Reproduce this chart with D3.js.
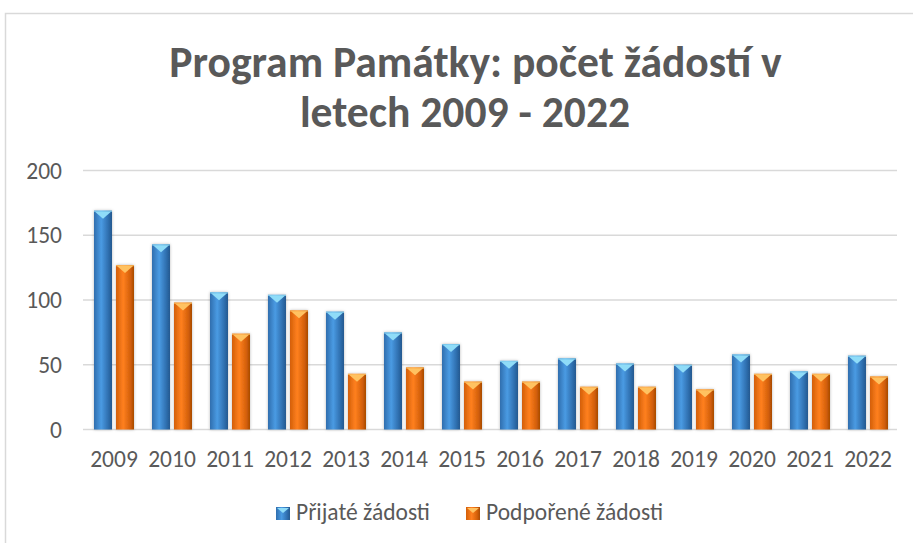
<!DOCTYPE html>
<html>
<head>
<meta charset="utf-8">
<script src="https://cdn.jsdelivr.net/npm/d3@7"></script>
<style>
  body { margin: 0; background: #fff; }
  svg { display: block; font-family: Carlito, Calibri, Lato, sans-serif; }
</style>
</head>
<body>
<svg width="913" height="543"></svg>
<script>
// data
var years = ['2009', '2010', '2011', '2012', '2013', '2014', '2015', '2016', '2017', '2018', '2019', '2020', '2021', '2022'];
var prijate = [169, 143, 106, 104, 91, 75, 66, 53, 55, 51, 50, 58, 45, 57];
var podporene = [127, 98, 74, 92, 43, 48, 37, 37, 33, 33, 31, 43, 43, 41];
var seriesNames = ['Přijaté žádosti', 'Podpořené žádosti'];
var yTicks = [0, 50, 100, 150, 200];
var titleLines = ['Program Památky: počet žádostí v', 'letech 2009 - 2022'];

var rows = years.map((y, i) => ({ year: y, vals: [prijate[i], podporene[i]] }));

var svg = d3.select('svg');
var defs = svg.append('defs');

// bevel-ish gradients like the Excel style
var palettes = [
    { dark: '#24598f', mid: '#4a9be3', edge: '#2f6eae', tip: '#8fdcf8' },
    { dark: '#a84a05', mid: '#ff8020', edge: '#d35f08', tip: '#ffc261' }
];
palettes.forEach((p, i) => {
    var g = defs.append('linearGradient').attr('id', 'grad' + i)
        .attr('x1', 0).attr('x2', 1).attr('y1', 0).attr('y2', 0);
    g.append('stop').attr('offset', '0%').attr('stop-color', p.edge);
    g.append('stop').attr('offset', '40%').attr('stop-color', p.mid);
    g.append('stop').attr('offset', '80%').attr('stop-color', p.edge);
    g.append('stop').attr('offset', '100%').attr('stop-color', p.dark);
});
var shadow = defs.append('filter').attr('id', 'shadow')
    .attr('x', '-30%').attr('y', '-10%').attr('width', '160%').attr('height', '120%');
shadow.append('feDropShadow').attr('dx', 0).attr('dy', 0)
    .attr('stdDeviation', 1.6).attr('flood-color', '#000').attr('flood-opacity', 0.28);

// chart frame
svg.append('rect')
    .attr('x', 5.5).attr('y', 13.5).attr('width', 1000).attr('height', 1000)
    .attr('fill', 'none').attr('stroke', '#d9d9d9').attr('stroke-width', 1.5);

// title
var title = svg.append('text')
    .attr('text-anchor', 'middle')
    .attr('fill', '#595959')
    .style('font-weight', 'bold')
    .style('font-size', '43.6px');
title.selectAll('tspan').data(titleLines).enter().append('tspan')
    .attr('x', (d, i) => i == 0 ? 475.5 : 465)
    .attr('y', (d, i) => 77 + i * 50)
    .text(d => d);

var x0 = d3.scaleBand()
    .domain(years)
    .range([85, 897]);
var x1 = d3.scaleBand()
    .domain([0, 1])
    .range([9, 49])
    .paddingInner(0.182);
var y = d3.scaleLinear()
    .domain([0, 200])
    .range([429.5, 170.5]);

// gridlines
svg.append('g').selectAll('line').data(yTicks).enter().append('line')
    .attr('x1', 83).attr('x2', 897)
    .attr('y1', d => y(d)).attr('y2', d => y(d))
    .attr('stroke', '#d9d9d9').attr('stroke-width', 1.5);

// y labels
svg.append('g').selectAll('text').data(yTicks).enter().append('text')
    .attr('x', 62).attr('y', d => y(d) + 8)
    .attr('text-anchor', 'end')
    .attr('fill', '#595959')
    .style('font-size', '23.5px')
    .text(d => d);

// x labels via axis
var xAxis = svg.append('g')
    .attr('transform', 'translate(0,429.5)')
    .call(d3.axisBottom(x0).tickSize(0));
xAxis.select('.domain').remove();
xAxis.selectAll('text')
    .attr('y', 37.5)
    .attr('dy', null)
    .attr('fill', '#595959')
    .style('font-size', '23.5px')
    .style('font-family', 'Carlito, Calibri, Lato, sans-serif');

// bars
var groups = svg.append('g').selectAll('g').data(rows).enter().append('g')
    .attr('transform', d => `translate(${x0(d.year)},0)`);

var bars = groups.selectAll('g').data(d => d.vals.map((v, i) => ({ s: i, v: v }))).enter()
    .append('g');

bars.append('rect')
    .attr('x', d => x1(d.s))
    .attr('y', d => y(d.v))
    .attr('width', x1.bandwidth())
    .attr('height', d => y(0) - y(d.v))
    .attr('fill', d => `url(#grad${d.s})`)
    .attr('filter', 'url(#shadow)');

// light top bevel
bars.append('path')
    .attr('d', d => {
        var l = x1(d.s), w = x1.bandwidth(), t = y(d.v);
        return `M${l + 1},${t + 1}L${l + w - 1},${t + 1}L${l + w / 2},${t + 8}Z`;
    })
    .attr('fill', d => palettes[d.s].tip);
bars.append('rect')
    .attr('x', d => x1(d.s))
    .attr('y', d => y(d.v))
    .attr('width', x1.bandwidth())
    .attr('height', 1.2)
    .attr('fill', d => palettes[d.s].tip)
    .attr('opacity', 0.8);

// legend
var legendX = [276, 466];
var legend = svg.append('g').selectAll('g').data(seriesNames).enter().append('g')
    .attr('transform', (d, i) => `translate(${legendX[i]},507)`);
legend.append('rect')
    .attr('width', 14).attr('height', 13)
    .attr('fill', (d, i) => `url(#grad${i})`);
legend.append('path')
    .attr('d', 'M1,1L13,1L7,6Z')
    .attr('fill', (d, i) => palettes[i].tip);
legend.append('text')
    .attr('x', 20).attr('y', 13)
    .attr('fill', '#595959')
    .style('font-size', '23.5px')
    .text(d => d);
</script>
</body>
</html>
